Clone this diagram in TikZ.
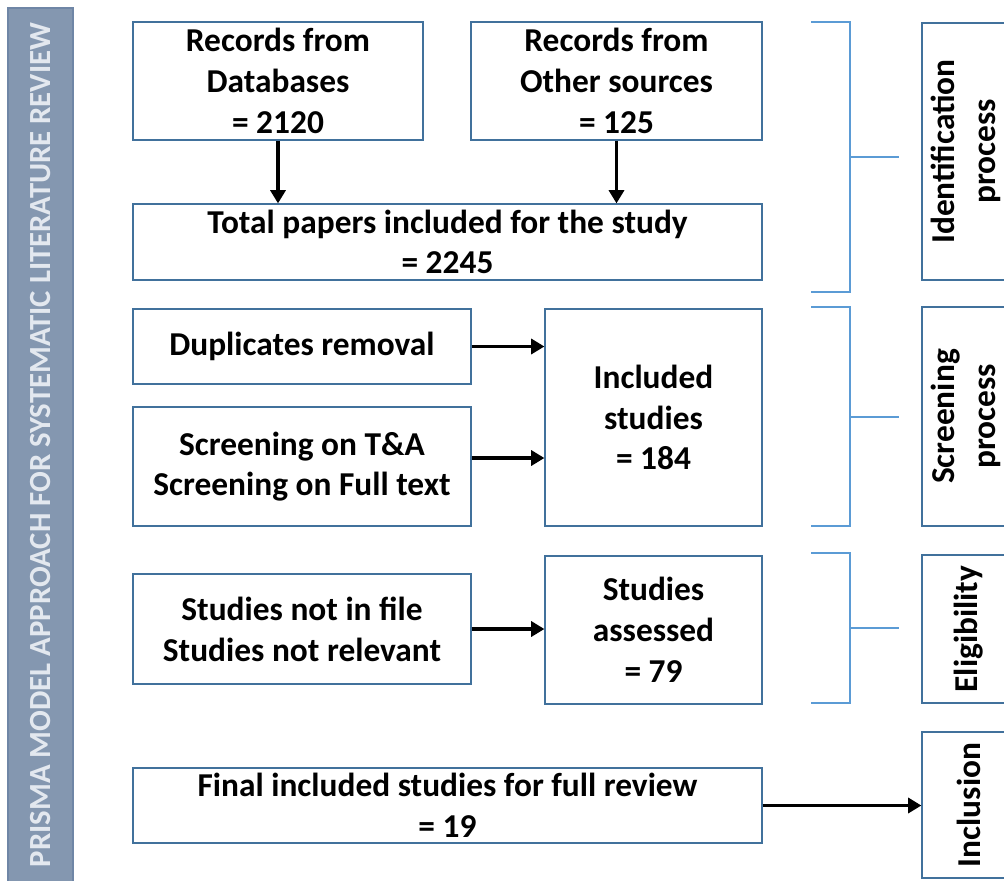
\documentclass[tikz,border=0pt]{standalone}
\usepackage{fontspec}
\setmainfont{Carlito}
\usetikzlibrary{arrows.meta, positioning}

\definecolor{boxline}{HTML}{41719C}
\definecolor{brace}{HTML}{5B9BD5}
\definecolor{barfill}{HTML}{8497B0}
\definecolor{barline}{HTML}{6F86A6}
\definecolor{bartext}{HTML}{E3E8EF}

\tikzset{
  stage/.style={draw=boxline, line width=0.7pt, fill=white, align=center, inner sep=2pt,
    font=\bfseries\fontsize{19}{23.2}\selectfont},
  phase/.style={draw=boxline, line width=0.7pt, fill=white, minimum width=1.88cm},
  phasetext/.style={rotate=90, align=center, font=\bfseries\fontsize{19}{23}\selectfont},
  flow/.style={-{Triangle[length=7.5pt,width=8.5pt]}, line width=2.2pt},
  bracket/.style={draw=brace, line width=1.1pt},
}

\begin{document}
\begin{tikzpicture}[x=0.02cm, y=-0.02cm]
  \useasboundingbox (0,0) rectangle (1004,880);
  \clip (0,0) rectangle (1004,880);
  % side banner
  \node[fill=barfill, draw=barline, line width=0.7pt, minimum width=1.3cm, minimum height=17.6cm] (bar) at (40.5,448) {};
  \node[rotate=90, text=bartext, font=\bfseries\fontsize{17.5}{20}\selectfont] (bartitle) at (41,445)
    {PRISMA MODEL APPROACH FOR SYSTEMATIC LITERATURE REVIEW};
  % identification
  \node[stage, minimum width=5.8cm, minimum height=2.36cm] (rdb) at (278,81) {Records from\\Databases\\= 2120};
  \node[stage, minimum width=5.82cm, minimum height=2.36cm] (ros) at (616.5,81) {Records from\\Other sources\\= 125};
  \node[stage, minimum width=12.58cm, minimum height=1.52cm] (tot) at (447.5,242) {Total papers included for the study\\= 2245};
  % screening
  \node[stage, minimum width=6.76cm, minimum height=1.5cm] (dup) at (302,346.5) {Duplicates removal};
  \node[stage, minimum width=6.76cm, minimum height=2.38cm] (scr) at (302,466.5) {Screening on T\&A\\Screening on Full text};
  \node[stage, minimum width=4.34cm, minimum height=4.34cm] (inc) at (653.5,417.5) {Included\\studies\\= 184};
  % eligibility
  \node[stage, minimum width=6.76cm, minimum height=2.2cm] (nfile) at (302,629) {Studies not in file\\Studies not relevant};
  \node[stage, minimum width=4.34cm, minimum height=2.96cm] (assd) at (653.5,630) {Studies\\assessed\\= 79};
  % inclusion
  \node[stage, minimum width=12.58cm, minimum height=1.5cm] (fin) at (447.5,805.5) {Final included studies for full review\\= 19};
  % phase boxes
  \node[phase, minimum height=5.14cm] (idp) at (969,151.5) {};
  \node[phase, minimum height=4.38cm] (scp) at (969,416.5) {};
  \node[phase, minimum height=2.96cm] (elp) at (969,629) {};
  \node[phase, minimum height=2.92cm] (inp) at (969,805) {};
  \node[phasetext] (idpt) at (966,151.5) {Identification\\process};
  \node[phasetext] (scpt) at (966,416.5) {Screening\\process};
  \node[phasetext] (elpt) at (elp) {Eligibility};
  \node[phasetext] (inpt) at (inp) {Inclusion};
  % arrows
  \draw[flow] (rdb.south) -- (rdb.south |- tot.north);
  \draw[flow] (ros.south) -- (ros.south |- tot.north);
  \draw[flow] (dup.east) -- (dup.east -| inc.west);
  \draw[flow] ([yshift=0.17cm]scr.east) -- ([yshift=0.17cm]scr.east -| inc.west);
  \draw[flow] (nfile.east) -- (nfile.east -| assd.west);
  \draw[flow] (fin.east) -- (fin.east -| inp.west);
  % brackets
  \draw[bracket] (811,22) -- (850,22) -- (850,292) -- (811,292);
  \draw[bracket] (850,157) -- (899,157);
  \draw[bracket] (811,307) -- (850,307) -- (850,526) -- (811,526);
  \draw[bracket] (850,417) -- (899,417);
  \draw[bracket] (811,553) -- (850,553) -- (850,703) -- (811,703);
  \draw[bracket] (850,628) -- (899,628);
\end{tikzpicture}
\end{document}
